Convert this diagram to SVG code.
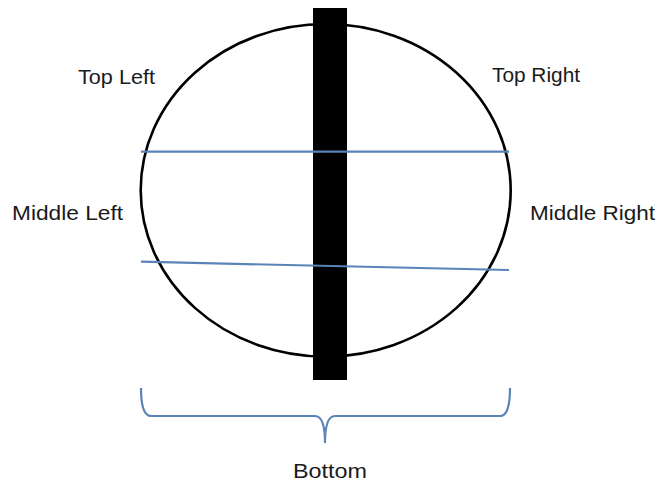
<svg xmlns="http://www.w3.org/2000/svg" width="658" height="485" viewBox="0 0 658 485">
<style>
.lbl{font-family:"Liberation Sans",Arial,sans-serif;font-size:21px;fill:#1a1a1a}
.blue{stroke:#5a83b8;fill:none;stroke-width:2.2}
</style>
<rect width="658" height="485" fill="#fff"/>
<g id="circle"><ellipse cx="325.7" cy="190.3" rx="185" ry="166.3" fill="none" stroke="#000" stroke-width="2.6"/></g>
<g id="bar"><rect x="313" y="8" width="34" height="372" fill="#000"/></g>
<g id="connectors">
<line class="blue" x1="141" y1="151.7" x2="509" y2="151.7"/>
<line class="blue" x1="141" y1="261.7" x2="509" y2="270"/>
<path class="blue" stroke-width="2.6" d="M141,388 Q141,416 151,416 L315,416 Q325,416 325,443 Q325,416 335,416 L500,416 Q510,416 510,388"/>
</g>
<g id="top-left"><text class="lbl" x="78" y="84" textLength="77" lengthAdjust="spacingAndGlyphs">Top Left</text></g>
<g id="top-right"><text class="lbl" x="492" y="82" textLength="88" lengthAdjust="spacingAndGlyphs">Top Right</text></g>
<g id="middle-left"><text class="lbl" x="12" y="220" textLength="111" lengthAdjust="spacingAndGlyphs">Middle Left</text></g>
<g id="middle-right"><text class="lbl" x="530" y="220" textLength="125" lengthAdjust="spacingAndGlyphs">Middle Right</text></g>
<g id="bottom"><text class="lbl" x="293" y="478" textLength="74" lengthAdjust="spacingAndGlyphs">Bottom</text></g>
</svg>
